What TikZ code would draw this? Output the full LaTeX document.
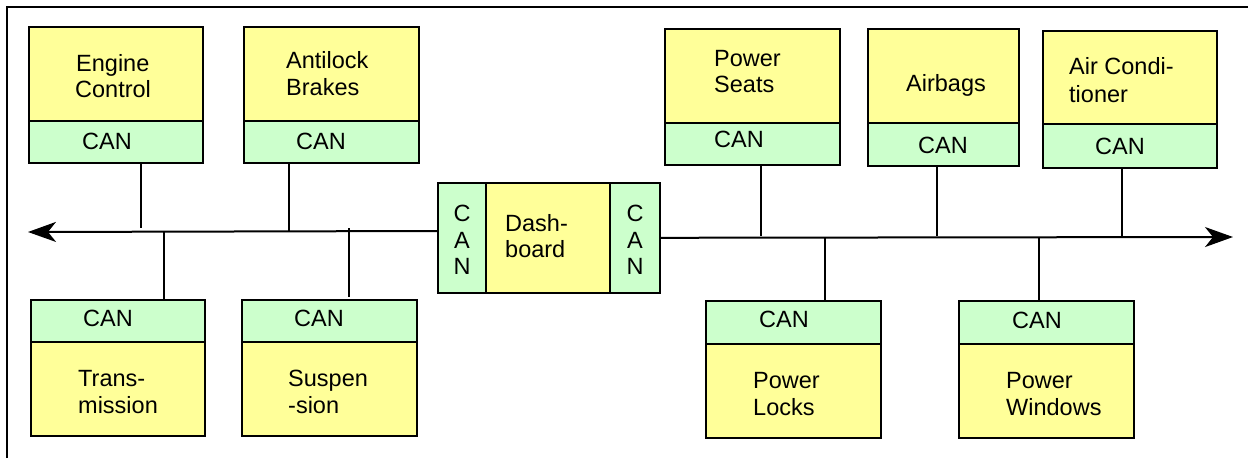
\documentclass[tikz,border=0pt]{standalone}
\usepackage{fontspec}
\setmainfont{Liberation Sans}
\usetikzlibrary{arrows.meta}
\definecolor{ecuyellow}{HTML}{FFFF99}
\definecolor{cangreen}{HTML}{CCFFCC}
\begin{document}
\begin{tikzpicture}[x=1pt,y=-1pt,
  part/.style={draw=black, line width=1.6pt, inner sep=0pt, anchor=north west},
  ecu/.style={part, fill=ecuyellow},
  canbox/.style={part, fill=cangreen},
  lbl/.style={anchor=base west, inner sep=0pt, font=\fontsize{23.5}{26}\selectfont},
  letter/.style={anchor=base, inner sep=0pt, font=\fontsize{23.5}{26}\selectfont},
  wire/.style={line width=1.5pt},
  bus/.style={line width=2pt, -{Stealth[length=28pt,width=20pt,inset=8pt]}}]
\useasboundingbox (0,0) rectangle (1248,458);
% frame
\draw[line width=2pt] (6.5,458) -- (6.5,6.5) -- (1248,6.5);

% Engine Control
\node[ecu, minimum width=174, minimum height=94] (ec) at (28,26) {};
\node[canbox, minimum width=174, minimum height=42] (ecc) at (28,120) {};
\node[lbl] (ect1) at (76,71) {Engine};
\node[lbl] (ect2) at (75,97.5) {Control};
\node[lbl] (eccl) at (82,149) {CAN};
% Antilock Brakes
\node[ecu, minimum width=175, minimum height=94] (ab) at (243,26) {};
\node[canbox, minimum width=175, minimum height=42] (abc) at (243,120) {};
\node[lbl] (abt1) at (286,68) {Antilock};
\node[lbl] (abt2) at (286,95.5) {Brakes};
\node[lbl] (abcl) at (296,149) {CAN};
% Power Seats
\node[ecu, minimum width=175, minimum height=94] (ps) at (664,28) {};
\node[canbox, minimum width=175, minimum height=42] (psc) at (664,122) {};
\node[lbl] (pst1) at (714,66) {Power};
\node[lbl] (pst2) at (714,92) {Seats};
\node[lbl] (pscl) at (714,147) {CAN};
% Airbags
\node[ecu, minimum width=151, minimum height=94] (air) at (867,28) {};
\node[canbox, minimum width=151, minimum height=43] (airc) at (867,122) {};
\node[lbl] (airt) at (906,91) {Airbags};
\node[lbl] (aircl) at (918,153) {CAN};
% Air Conditioner
\node[ecu, minimum width=174, minimum height=93] (ac) at (1042,30) {};
\node[canbox, minimum width=174, minimum height=44] (acc) at (1042,123) {};
\node[lbl] (act1) at (1069,74) {Air Condi-};
\node[lbl] (act2) at (1069,102) {tioner};
\node[lbl] (accl) at (1095,154) {CAN};
% Transmission
\node[canbox, minimum width=174, minimum height=42] (trc) at (30,299) {};
\node[ecu, minimum width=174, minimum height=94] (tr) at (30,341) {};
\node[lbl] (trcl) at (83,326) {CAN};
\node[lbl] (trt1) at (78,386) {Trans-};
\node[lbl] (trt2) at (78,413) {mission};
% Suspension
\node[canbox, minimum width=175, minimum height=42] (suc) at (241,299) {};
\node[ecu, minimum width=175, minimum height=94] (su) at (241,341) {};
\node[lbl] (sucl) at (294,326) {CAN};
\node[lbl] (sut1) at (288,386) {Suspen};
\node[lbl] (sut2) at (288,413) {-sion};
% Power Locks
\node[canbox, minimum width=175, minimum height=43] (plc) at (705,300) {};
\node[ecu, minimum width=175, minimum height=94] (pl) at (705,343) {};
\node[lbl] (plcl) at (759,327) {CAN};
\node[lbl] (plt1) at (753,388) {Power};
\node[lbl] (plt2) at (753,415) {Locks};
% Power Windows
\node[canbox, minimum width=175, minimum height=43] (pwc) at (958,300) {};
\node[ecu, minimum width=175, minimum height=94] (pw) at (958,343) {};
\node[lbl] (pwcl) at (1012,328) {CAN};
\node[lbl] (pwt1) at (1006,388) {Power};
\node[lbl] (pwt2) at (1006,415) {Windows};
% Dashboard
\node[canbox, minimum width=48, minimum height=110] (dcl) at (437,182) {};
\node[ecu, minimum width=124, minimum height=110] (db) at (485,182) {};
\node[canbox, minimum width=50, minimum height=110] (dcr) at (609,182) {};
\node[lbl] (dbt1) at (505,231) {Dash-};
\node[lbl] (dbt2) at (505,257) {board};
\node[letter] (dl1) at (462,221) {C};
\node[letter] (dl2) at (462,248) {A};
\node[letter] (dl3) at (462,274) {N};
\node[letter] (dr1) at (635,221) {C};
\node[letter] (dr2) at (635,248) {A};
\node[letter] (dr3) at (635,274) {N};

% bus
\coordinate (busL) at (28,232);
\coordinate (busR) at (1233,237);
\draw[bus] (dcl.west |- 0,231) -- (busL);
\draw[bus] (dcr.east) -- (busR);

% stubs
\coordinate (s1) at (141,228);
\coordinate (s2) at (289,231);
\coordinate (s3) at (164,232);
\coordinate (s4) at (349,228);
\coordinate (s5) at (761,236);
\coordinate (s6) at (937,236);
\coordinate (s7) at (1122,237);
\coordinate (s8) at (825,237);
\coordinate (s9) at (1039,237);
\draw[wire] (ecc.south -| s1) -- (s1);
\draw[wire] (abc.south -| s2) -- (s2);
\draw[wire] (s3) -- (trc.north -| s3);
\draw[wire] (s4) -- ([yshift=2pt]suc.north -| s4);
\draw[wire] (psc.south -| s5) -- (s5);
\draw[wire] (airc.south -| s6) -- (s6);
\draw[wire] (acc.south -| s7) -- (s7);
\draw[wire] (s8) -- (plc.north -| s8);
\draw[wire] (s9) -- (pwc.north -| s9);
\end{tikzpicture}
\end{document}
